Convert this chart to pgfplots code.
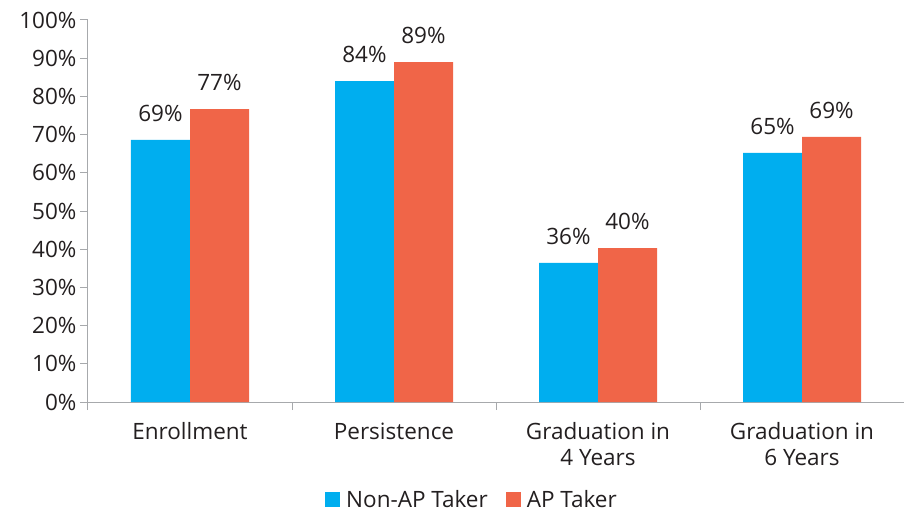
\documentclass[border=0pt]{standalone}
\usepackage{fontspec}
\setmainfont{Open Sans}
\usepackage{pgfplots}
\pgfplotsset{compat=1.18}
\usepackage{pgfplotstable}

\definecolor{apblue}{HTML}{00AEEF}
\definecolor{aporange}{HTML}{F06548}
\definecolor{txt}{HTML}{231F20}
\definecolor{axgray}{HTML}{A7A9AC}

\pgfplotstableread{
x  nonap  ap
0  68.6   76.7
1  84.0   89.0
2  36.4   40.3
3  65.2   69.4
}\ratesdata

\begin{document}
\begin{tikzpicture}
\begin{axis}[
  at={(0,0)}, anchor=south west,
  scale only axis, width=816pt, height=382pt,
  ybar=0pt, bar width=59pt,
  xmin=-0.5, xmax=3.5, ymin=0, ymax=100,
  axis x line*=bottom, axis y line*=left,
  axis line style={axgray, line width=1pt},
  tick style={axgray, line width=1pt},
  tick align=outside,
  font=\fontsize{22.5}{26}\selectfont,
  /pgf/number format/assume math mode=true,
  ytick={0,10,...,100},
  yticklabel={\pgfmathprintnumber{\tick}\%},
  major tick length=8pt,
  xtick={0,1,2,3},
  xticklabels={Enrollment, Persistence, {Graduation in\\4 Years}, {Graduation in\\6 Years}},
  x tick style={draw=none},
  minor xtick={-0.5,0.5,1.5,2.5},
  minor x tick style={draw=axgray, line width=1pt},
  minor tick length=8pt,
  xticklabel style={align=center, text=txt, yshift=-9pt},
  yticklabel style={text=txt},
  nodes near coords={\pgfmathprintnumber[precision=0]{\pgfplotspointmeta}\%},
  every node near coord/.append style={text=txt, yshift=15pt},
  legend style={at={(0.473,-0.2565)}, anchor=center, draw=none, text=txt,
    legend columns=2, /tikz/every even column/.append style={column sep=12pt},
    nodes={inner xsep=6pt}},
  legend image code/.code={\fill[#1] (0pt,-7pt) rectangle (15pt,8pt);},
]
\addplot[fill=apblue, draw=none] table[x=x, y=nonap] {\ratesdata};
\addplot[fill=aporange, draw=none] table[x=x, y=ap] {\ratesdata};
\legend{Non-AP Taker, AP Taker}
\end{axis}
\pgfresetboundingbox
\path (-88pt,-112pt) rectangle (816pt,402pt);
\end{tikzpicture}
\end{document}
